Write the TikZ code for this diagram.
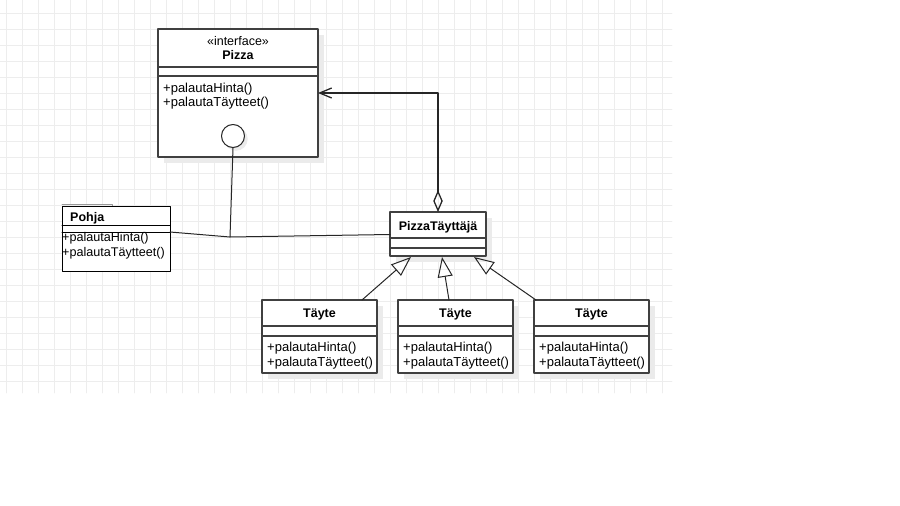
\documentclass[tikz,border=0pt]{standalone}
\usepackage{fontspec}
\setmainfont{Liberation Sans}
\usetikzlibrary{arrows.meta}
\tikzset{
	ruutu/.style={draw=black!7, line width=0.9pt},
	varjo/.style={fill=black!8},
	luokka/.style={draw=black!75, line width=1.4pt, fill=white},
	viiva/.style={draw=black!85, line width=1pt},
	metodi/.style={anchor=west, inner sep=0pt, yshift=-1.5pt, font=\fontsize{13}{15}\selectfont},
	otsikko/.style={inner sep=0pt, yshift=-1.5pt, font=\bfseries\fontsize{12.5}{15}\selectfont}
}
\begin{document}
\begin{tikzpicture}[x=1pt, y=-1pt, line join=round, line cap=round]
	\useasboundingbox (0,0) rectangle (900,506);
	% Ruudukko
	\foreach \x in {6,22,...,662} \draw[ruutu] (\x,0) -- (\x,393);
	\foreach \y in {13,29,...,381} \draw[ruutu] (0,\y) -- (672,\y);
	% Pizza
	\fill[varjo] (164,35) rectangle (324,163);
	\draw[luokka] (158,29) rectangle (318,157);
	\draw[luokka] (158,67) -- (318,67) (158,76) -- (318,76);
	\node[inner sep=0pt, yshift=-1.5pt, font=\fontsize{12.5}{15}\selectfont] (S) at (238,40) {«interface»};
	\node[otsikko] (P) at (238,54) {Pizza};
	\node[metodi] (PH) at (163,88) {+palautaHinta()};
	\node[metodi] (PT) at (163,102) {+palautaTäytteet()};
	\fill[varjo] (236,139) circle (11.7);
	\node[circle, draw=black!85, line width=1pt, fill=white, minimum size=23pt, inner sep=0pt] (O) at (233,136) {};
	% Pohja
	\draw[black!40, line width=0.8pt] (62,204) -- (112,204) -- (112,226) -- (118,226);
	\draw[draw=black, line width=1pt, fill=white] (62,206) rectangle (170,271);
	\draw[draw=black, line width=1pt] (62,225) -- (170,225) (62,232) -- (170,232);
	\node[otsikko, anchor=west] (B) at (70,217) {Pohja};
	\node[metodi, font=\fontsize{12.6}{15}\selectfont] (BH) at (62,237) {+palautaHinta()};
	\node[metodi, font=\fontsize{12.6}{15}\selectfont] (BT) at (62,252) {+palautaTäytteet()};
	% PizzaTäyttäjä
	\fill[varjo] (396,218) rectangle (492,262);
	\draw[luokka] (390,212) rectangle (486,256);
	\draw[luokka] (390,238) -- (486,238) (390,248) -- (486,248);
	\node[otsikko] (K) at (438,226) {PizzaTäyttäjä};
	% Täyte
	\foreach \x/\n in {262/1, 398/2, 534/3} {
		\fill[varjo] (\x+6,306) rectangle (\x+121,379);
		\draw[luokka] (\x,300) rectangle (\x+115,373);
		\draw[luokka] (\x,326) -- (\x+115,326) (\x,336) -- (\x+115,336);
		\node[otsikko] (T\n) at (\x+57.5,313) {Täyte};
		\node[metodi] (TH\n) at (\x+5,347) {+palautaHinta()};
		\node[metodi] (TT\n) at (\x+5,362) {+palautaTäytteet()};
	}
	% Yhteydet
	\coordinate (L) at (230,237);
	\coordinate (Q) at (170,232);
	\coordinate (R) at (390,234.5);
	\draw[viiva] (Q) -- (L) -- (R);
	\draw[viiva] (O.south) -- (L);
	\coordinate (D) at (438,212);
	\coordinate (E) at (438,93);
	\coordinate (F) at (318,93);
	\draw[viiva, line width=1.3pt, {Diamond[open, length=22pt, width=9.5pt]}-{Straight Barb[length=12pt, width=10pt]}] (D) -- (E) -- (F);
	\foreach \n/\a/\b in {1/362/411, 2/449/442, 3/536/474} {
		\coordinate (Y\n) at (\a,300);
		\coordinate (X\n) at (\b,257);
		\draw[viiva, -{Triangle[open, length=20pt, width=15pt]}] (Y\n) -- (X\n);
	}
\end{tikzpicture}
\end{document}
